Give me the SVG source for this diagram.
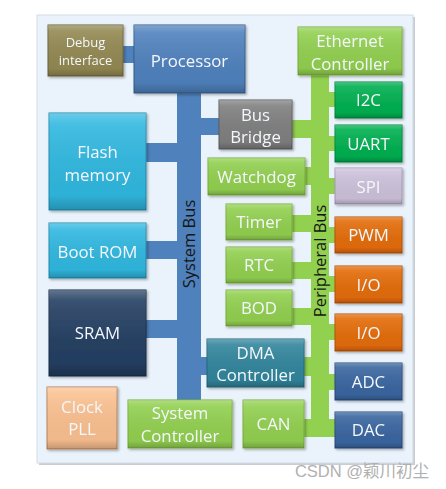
<svg xmlns="http://www.w3.org/2000/svg" width="446" height="489" viewBox="0 0 446 489">
<defs>
<linearGradient id="shade" x1="0" y1="0" x2="0" y2="1">
<stop offset="0" stop-color="#ffffff" stop-opacity="0.28"/>
<stop offset="0.12" stop-color="#ffffff" stop-opacity="0.1"/>
<stop offset="0.85" stop-color="#000000" stop-opacity="0.04"/>
<stop offset="1" stop-color="#000000" stop-opacity="0.22"/>
</linearGradient>
<filter id="sh" x="-10%" y="-10%" width="130%" height="130%">
<feDropShadow dx="1.5" dy="1.5" stdDeviation="1" flood-color="#000" flood-opacity="0.3"/>
</filter>
</defs>
<style>
text{font-family:"Open Sans","Liberation Sans",sans-serif;font-size:16.8px;fill:#F4F7FB;text-anchor:middle}
.s{font-size:13px}
.bus{fill:#151515;font-size:16.5px}
.n rect{stroke-width:1}
.ov{fill:url(#shade);stroke:none}
.g{fill:#92D050;stroke:#7AAF3E}
.dg{fill:#00B050;stroke:#00893E}
.bl{fill:#4F81BD;stroke:#385D8A}
.cy{fill:#30B8E0;stroke:#1E8DB0}
.nv{fill:#243F62;stroke:#1A2E48}
.or{fill:#E46C0A;stroke:#B55508}
.db{fill:#3A66A0;stroke:#2A4D7C}
.tl{fill:#31859C;stroke:#24697C}
.sb{fill:#4F81BD}
.pb{fill:#92D050}
</style>
<rect x="39" y="17" width="376" height="448" fill="#C8CDD3"/>
<rect x="37" y="15" width="376" height="448" fill="#EAF2FB" stroke="#D3DBE4" stroke-width="1"/>
<g id="connectors">
<rect class="sb" x="177" y="92" width="24" height="308"/>
<rect class="sb" x="122" y="46" width="13" height="17"/>
<rect class="sb" x="201" y="118" width="19" height="17"/>
<rect class="sb" x="146" y="143" width="31" height="19"/>
<rect class="sb" x="146" y="241" width="31" height="18"/>
<rect class="sb" x="146" y="320" width="31" height="18"/>
<rect class="sb" x="201" y="357" width="7" height="18"/>
<rect class="pb" x="311" y="75" width="18" height="362"/>
<rect class="pb" x="292" y="120" width="19" height="18"/>
<rect class="pb" x="329" y="92" width="7" height="15"/>
<rect class="pb" x="329" y="136" width="7" height="15"/>
<rect class="pb" x="305" y="167" width="6" height="18"/>
<rect class="pb" x="329" y="178" width="7" height="16"/>
<rect class="pb" x="292" y="215" width="19" height="17"/>
<rect class="pb" x="329" y="227" width="7" height="16"/>
<rect class="pb" x="292" y="262" width="19" height="17"/>
<rect class="pb" x="329" y="276" width="7" height="16"/>
<rect class="pb" x="292" y="308" width="19" height="17"/>
<rect class="pb" x="329" y="324" width="7" height="16"/>
<rect class="pb" x="304" y="357" width="7" height="19"/>
<rect class="pb" x="329" y="374" width="7" height="16"/>
<rect class="pb" x="304" y="419" width="7" height="18"/>
<rect class="pb" x="329" y="419" width="7" height="18"/>
<text class="bus" transform="translate(195,244) rotate(-90)">System Bus</text>
<text class="bus" transform="translate(326,261) rotate(-90)">Peripheral Bus</text>
</g>
<g id="debug" class="n" filter="url(#sh)"><rect x="48" y="25" width="75" height="51" fill="#938953" stroke="#6E6538"/><rect class="ov" x="48" y="25" width="75" height="51"/><text class="s" x="85.5" y="47">Debug</text><text class="s" x="85.5" y="65">interface</text></g>
<g id="processor" class="n" filter="url(#sh)"><rect class="bl" x="134" y="25" width="111" height="68"/><rect class="ov" x="134" y="25" width="111" height="68"/><text x="189.5" y="67">Processor</text></g>
<g id="bridge" class="n" filter="url(#sh)"><rect x="219" y="100" width="73" height="49" fill="#7F7F7F" stroke="#5F5F5F"/><rect class="ov" x="219" y="100" width="73" height="49"/><text x="255.5" y="121">Bus</text><text x="255.5" y="143">Bridge</text></g>
<g id="flash" class="n" filter="url(#sh)"><rect class="cy" x="49" y="113" width="97" height="97"/><rect class="ov" x="49" y="113" width="97" height="97"/><text x="97.5" y="158">Flash</text><text x="97.5" y="181">memory</text></g>
<g id="bootrom" class="n" filter="url(#sh)"><rect class="cy" x="49" y="223" width="97" height="55"/><rect class="ov" x="49" y="223" width="97" height="55"/><text x="97.5" y="257.5">Boot ROM</text></g>
<g id="sram" class="n" filter="url(#sh)"><rect class="nv" x="49" y="290" width="97" height="86"/><rect class="ov" x="49" y="290" width="97" height="86"/><text x="97.5" y="339">SRAM</text></g>
<g id="clock" class="n" filter="url(#sh)"><rect x="47" y="387" width="70" height="62" fill="#FAC090" stroke="#B8875F"/><rect class="ov" x="47" y="387" width="70" height="62"/><text x="82" y="413">Clock</text><text x="82" y="435">PLL</text></g>
<g id="sysctrl" class="n" filter="url(#sh)"><rect class="g" x="128" y="400" width="104" height="48"/><rect class="ov" x="128" y="400" width="104" height="48"/><text x="180" y="419">System</text><text x="180" y="442">Controller</text></g>
<g id="dma" class="n" filter="url(#sh)"><rect class="tl" x="207" y="339" width="97" height="48"/><rect class="ov" x="207" y="339" width="97" height="48"/><text x="255.5" y="359">DMA</text><text x="255.5" y="381">Controller</text></g>
<g id="can" class="n" filter="url(#sh)"><rect class="g" x="243" y="400" width="61" height="48"/><rect class="ov" x="243" y="400" width="61" height="48"/><text x="273.5" y="430">CAN</text></g>
<g id="ethernet" class="n" filter="url(#sh)"><rect class="g" x="298" y="27" width="104" height="48"/><rect class="ov" x="298" y="27" width="104" height="48"/><text x="350" y="47">Ethernet</text><text x="350" y="70">Controller</text></g>
<g id="i2c" class="n" filter="url(#sh)"><rect class="dg" x="335" y="82" width="67" height="36"/><rect class="ov" x="335" y="82" width="67" height="36"/><text x="368.5" y="106">I2C</text></g>
<g id="uart" class="n" filter="url(#sh)"><rect class="dg" x="335" y="125" width="67" height="37"/><rect class="ov" x="335" y="125" width="67" height="37"/><text x="368.5" y="150">UART</text></g>
<g id="watchdog" class="n" filter="url(#sh)"><rect class="g" x="208" y="158" width="97" height="37"/><rect class="ov" x="208" y="158" width="97" height="37"/><text x="256.5" y="182.5">Watchdog</text></g>
<g id="spi" class="n" filter="url(#sh)"><rect x="335" y="168" width="67" height="36" fill="#CCC1DA" stroke="#A89BB9"/><rect class="ov" x="335" y="168" width="67" height="36"/><text x="368.5" y="192.5">SPI</text></g>
<g id="timer" class="n" filter="url(#sh)"><rect class="g" x="226" y="204" width="66" height="36"/><rect class="ov" x="226" y="204" width="66" height="36"/><text x="259" y="228">Timer</text></g>
<g id="pwm" class="n" filter="url(#sh)"><rect class="or" x="335" y="217" width="67" height="36"/><rect class="ov" x="335" y="217" width="67" height="36"/><text x="368.5" y="241">PWM</text></g>
<g id="rtc" class="n" filter="url(#sh)"><rect class="g" x="226" y="247" width="66" height="36"/><rect class="ov" x="226" y="247" width="66" height="36"/><text x="259" y="271">RTC</text></g>
<g id="io1" class="n" filter="url(#sh)"><rect class="or" x="335" y="266" width="67" height="37"/><rect class="ov" x="335" y="266" width="67" height="37"/><text x="368.5" y="290.5">I/O</text></g>
<g id="bod" class="n" filter="url(#sh)"><rect class="g" x="226" y="290" width="66" height="36"/><rect class="ov" x="226" y="290" width="66" height="36"/><text x="259" y="314">BOD</text></g>
<g id="io2" class="n" filter="url(#sh)"><rect class="or" x="335" y="314" width="67" height="37"/><rect class="ov" x="335" y="314" width="67" height="37"/><text x="368.5" y="338.5">I/O</text></g>
<g id="adc" class="n" filter="url(#sh)"><rect class="db" x="335" y="363" width="67" height="37"/><rect class="ov" x="335" y="363" width="67" height="37"/><text x="368.5" y="387.5">ADC</text></g>
<g id="dac" class="n" filter="url(#sh)"><rect class="db" x="335" y="412" width="67" height="36"/><rect class="ov" x="335" y="412" width="67" height="36"/><text x="368.5" y="436">DAC</text></g>
<text x="362" y="477" style="font-family:'Liberation Sans','Noto Sans CJK SC',sans-serif;font-size:16.5px;fill:#B0B0B0">CSDN @颖川初尘</text>
</svg>
